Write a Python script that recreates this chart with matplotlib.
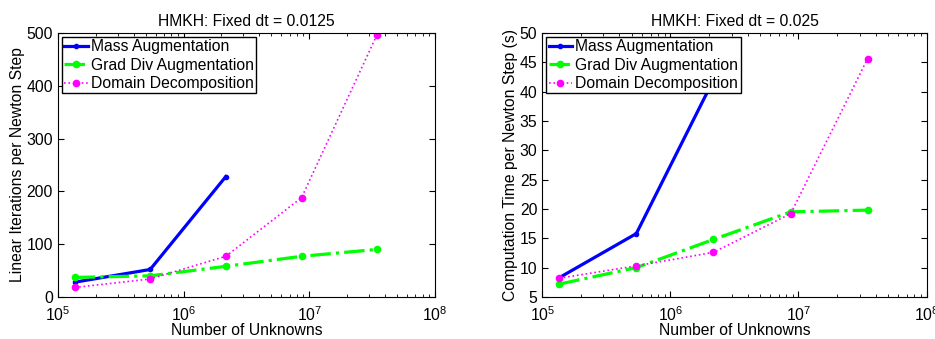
import numpy as np
import matplotlib
matplotlib.use("Agg")
import matplotlib.pyplot as plt
import matplotlib.ticker as ticker

plt.rcParams['font.family'] = ['Liberation Sans', 'DejaVu Sans']
plt.rcParams['mathtext.fontset'] = 'custom'
plt.rcParams['mathtext.rm'] = 'Liberation Sans'
plt.rcParams['mathtext.it'] = 'Liberation Sans:italic'

# data
unknowns = [1.36e5, 5.42e5, 2.17e6, 8.7e6, 3.46e7]

iters_mass = [28, 52, 228]
iters_graddiv = [37, 40, 58, 77, 90]
iters_dd = [18, 34, 77, 188, 496]

time_mass = [8.3, 15.8, 42.0]
time_graddiv = [7.2, 10.0, 14.8, 19.5, 19.8]
time_dd = [8.2, 10.3, 12.6, 19.2, 45.6]

labels = ['Mass Augmentation', 'Grad Div Augmentation', 'Domain Decomposition']
titles = ['HMKH: Fixed dt = 0.0125', 'HMKH: Fixed dt = 0.025']
ylabels = ['Linear Iterations per Newton Step', 'Computation Time per Newton Step (s)']

fs = 11.3

fig = plt.figure(figsize=(9.35, 3.39), dpi=100)
ax1 = fig.add_axes([0.062, 0.124, 0.403, 0.779])
ax2 = fig.add_axes([0.580, 0.124, 0.411, 0.779])


def draw(ax, mass, gd, dd):
    ax.semilogx(unknowns[:len(mass)], mass, '-', color='#0000ff', lw=2.3,
                marker='.', ms=6, label=labels[0])
    ax.semilogx(unknowns, gd, '-.', color='#00ff00', lw=2.3,
                marker='.', ms=9, label=labels[1])
    ax.semilogx(unknowns, dd, ':', color='#ff00ff', lw=1.2,
                marker='.', ms=9, label=labels[2])
    ax.set_xlim(1e5, 1e8)
    ax.xaxis.set_major_locator(ticker.LogLocator(base=10, numticks=10))
    ax.xaxis.set_minor_locator(ticker.LogLocator(base=10, subs=np.arange(2, 10), numticks=10))
    ax.xaxis.set_minor_formatter(ticker.NullFormatter())
    ax.tick_params(which='both', direction='in', top=True, right=True, labelsize=fs)
    ax.tick_params(which='major', length=4)
    ax.tick_params(which='minor', length=2)
    ax.tick_params(axis='x', pad=6)
    for s in ax.spines.values():
        s.set_linewidth(0.8)
    ax.set_xlabel('Number of Unknowns', fontsize=fs, labelpad=-1)
    leg = ax.legend(loc='upper left', fontsize=fs, handlelength=1.5, handletextpad=0.2,
                    borderpad=0.15, labelspacing=0.22, borderaxespad=0.25, fancybox=False,
                    framealpha=1)
    leg.get_frame().set_edgecolor('black')
    leg.get_frame().set_linewidth(1.0)


draw(ax1, iters_mass, iters_graddiv, iters_dd)
ax1.set_ylim(0, 500)
ax1.yaxis.set_major_locator(ticker.MultipleLocator(100))
ax1.set_title(titles[0], fontsize=fs, pad=5)
ax1.set_ylabel(ylabels[0], fontsize=fs, labelpad=1)

draw(ax2, time_mass, time_graddiv, time_dd)
ax2.set_ylim(5, 50)
ax2.yaxis.set_major_locator(ticker.MultipleLocator(5))
ax2.set_title(titles[1], fontsize=fs, pad=5)
ax2.set_ylabel(ylabels[1], fontsize=fs, labelpad=1)

fig.savefig('out.png', dpi=100)
